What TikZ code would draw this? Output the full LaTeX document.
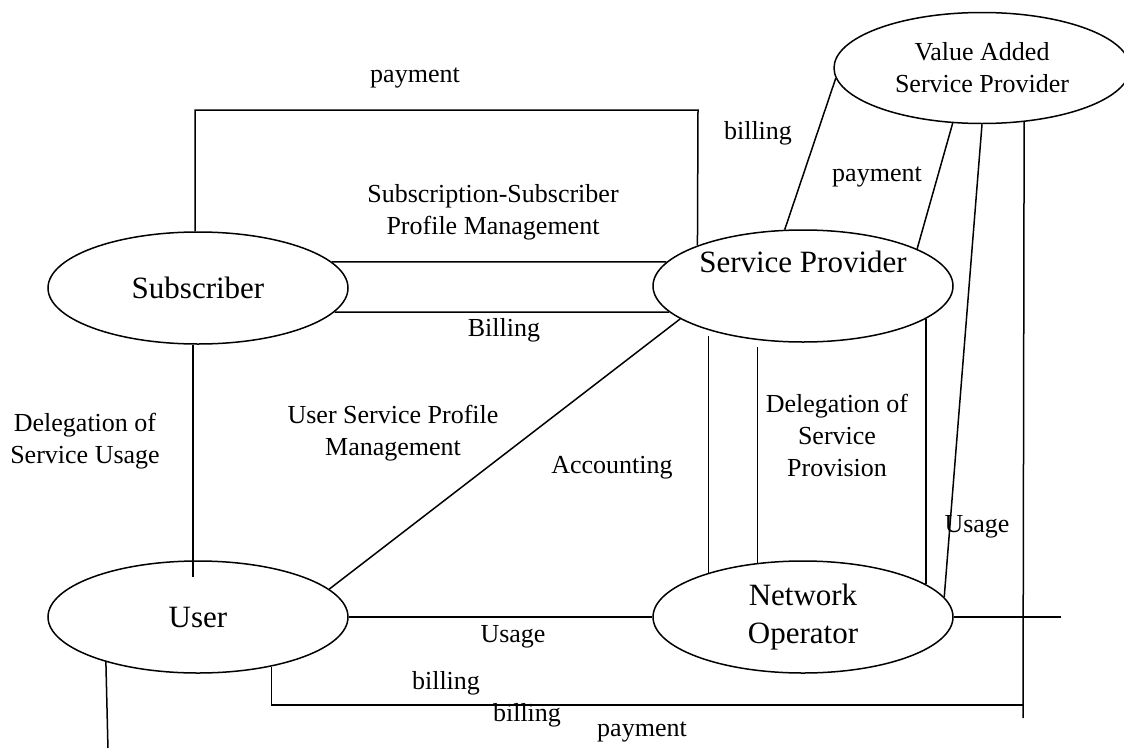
\documentclass[tikz,border=0pt]{standalone}
\usepackage{fontspec}
\setmainfont{Liberation Serif}
\usetikzlibrary{shapes.geometric}
\begin{document}
\begin{tikzpicture}[x=1pt,y=-1pt,
		party/.style={draw,ellipse,line width=1.5pt,minimum width=300pt,minimum height=112pt,inner sep=0pt,align=center,font=\fontsize{31}{38}\selectfont},
		tag/.style={inner sep=0pt,align=center,font=\fontsize{26}{32}\selectfont},
		link/.style={line width=1.5pt}]
	\useasboundingbox (0,0) rectangle (1124,747);
	\node[party] (sub) at (198,288) {Subscriber};
	\node[party,label={[name=sptext,font=\fontsize{31}{38}\selectfont,yshift=24pt]center:Service Provider}] (sp) at (803,286) {};
	\node[party] (user) at (198,617) {User};
	\node[party] (no) at (803,617) {Network\\Operator};
	\node[party,minimum width=296pt,minimum height=111pt,font=\fontsize{26}{32}\selectfont] (vasp) at (982,68) {Value Added\\Service Provider};
	\coordinate (paycorner) at (698,110);
	\coordinate (billcorner) at (1023,705);
	\coordinate (rightfoot) at (1023,718);
	\coordinate (noright) at (1061,617);
	\coordinate (userfoot) at (108,750);
	\draw[link] ([xshift=-3pt]sub.north) |- (paycorner) -- (sp.159);
	\draw[link] (sub.11) -- (sp.170);
	\draw[link] (sub.-10) -- (sp.191);
	\draw[link] ([xshift=-5pt]sub.south) -- ([xshift=-5pt,yshift=-17pt]user.north);
	\draw[link] (user.12) -- (sp.195);
	\draw[link] (user.east) -- (no.west);
	\draw[link,shorten <=6pt] (sp.205) -- (no.155);
	\draw[link,shorten <=7pt] (sp.230) -- (no.130);
	\draw[link] (sp.345) -- (no.15);
	\draw[link] (vasp.184) -- (sp.108);
	\draw[link] (vasp.242) -- (sp.18);
	\draw[link] (vasp.south) -- (no.8);
	\draw[link] (vasp.308) -- (rightfoot);
	\draw[link] (user.326) |- (billcorner);
	\draw[link] (no.east) -- (noright);
	\draw[link] (user.206) -- (userfoot);
	\node[tag] (paytop) at (415,78) {payment};
	\node[tag] (subprof) at (493,212) {Subscription-Subscriber\\Profile Management};
	\node[tag] (subbill) at (504,330) {Billing};
	\node[tag] (deleguse) at (85,441) {Delegation of\\Service Usage};
	\node[tag] (userprof) at (393,433) {User Service Profile\\Management};
	\node[tag] (acct) at (612,468) {Accounting};
	\node[tag] (delegprov) at (837,435) {Delegation of\\Service\\Provision};
	\node[tag] (usage) at (513,637) {Usage};
	\node[tag] (vusage) at (977,527) {Usage};
	\node[tag] (vbill) at (758,133) {billing};
	\node[tag] (vpay) at (877,177) {payment};
	\node[tag] (ubill) at (446,683) {billing};
	\node[tag] (nbill) at (527,715) {billing};
	\node[tag] (npay) at (642,732) {payment};
\end{tikzpicture}
\end{document}
